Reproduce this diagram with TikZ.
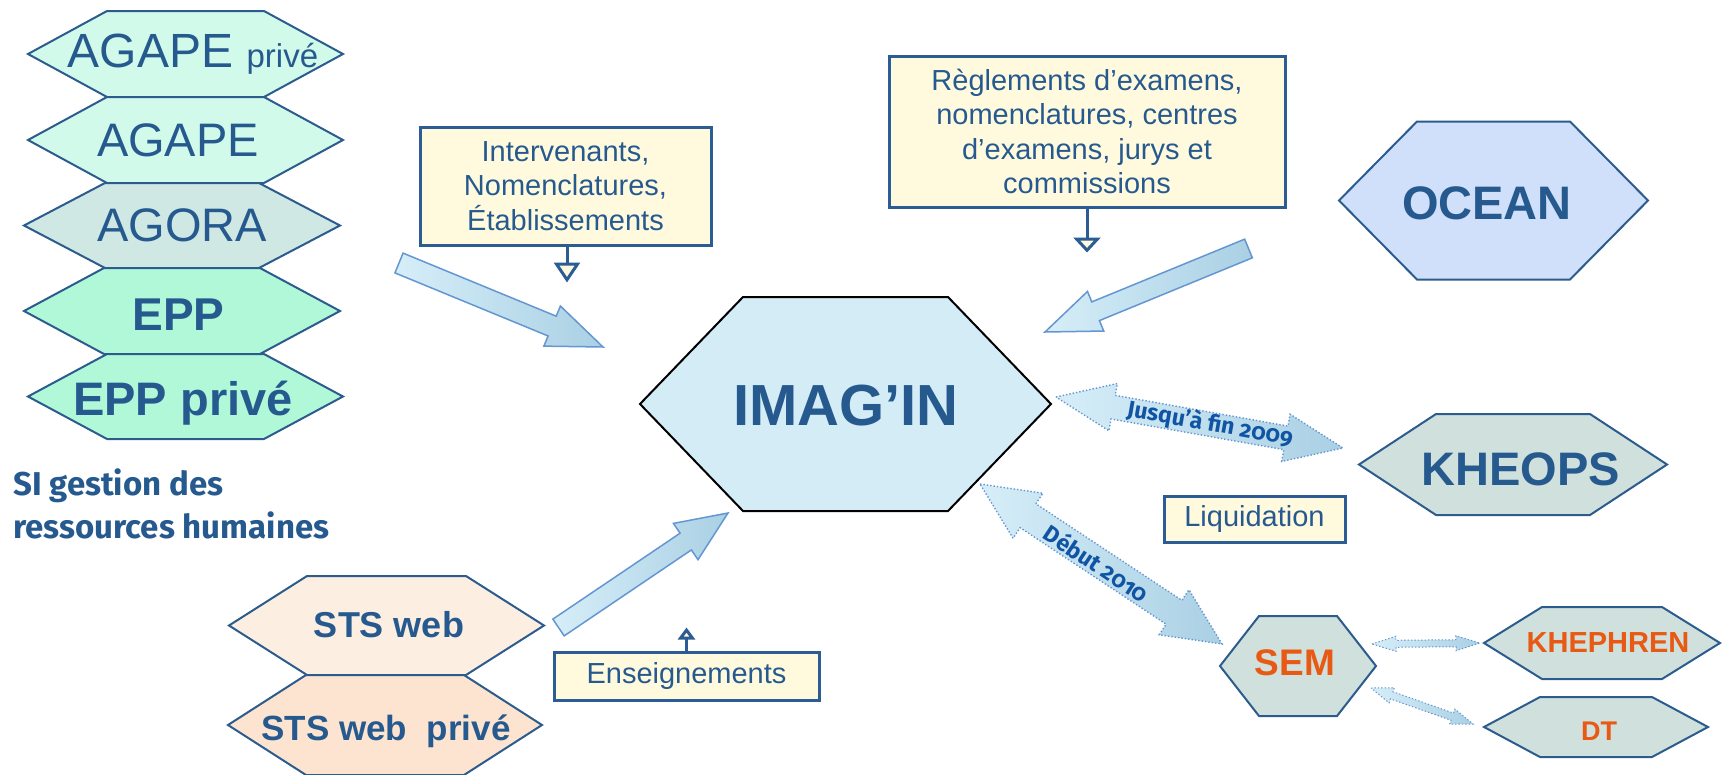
\documentclass[tikz,border=0pt]{standalone}
\usepackage{fontspec}
\setmainfont{Liberation Sans}
\newfontfamily\fira{Fira Sans}[Numbers=OldStyle]
\usetikzlibrary{calc,arrows.meta}
\definecolor{txtblue}{RGB}{38,90,143}
\definecolor{hexborder}{RGB}{44,92,142}
\definecolor{mintA}{RGB}{210,250,234}
\definecolor{agoraC}{RGB}{208,232,228}
\definecolor{mintB}{RGB}{176,248,216}
\definecolor{oceanC}{RGB}{208,224,250}
\definecolor{grayC}{RGB}{208,224,220}
\definecolor{imaginC}{RGB}{212,236,246}
\definecolor{stsA}{RGB}{253,238,226}
\definecolor{stsB}{RGB}{252,228,208}
\definecolor{orng}{RGB}{232,90,20}
\definecolor{boxfill}{RGB}{255,250,222}
\definecolor{boxborder}{RGB}{44,92,148}
\definecolor{arrL}{RGB}{214,238,248}
\definecolor{arrR}{RGB}{170,208,228}
\definecolor{arrB}{RGB}{100,150,210}
\definecolor{lblue}{RGB}{16,84,164}
\newcommand\fsz[1]{\fontsize{#1}{#1}\selectfont}
% hexagon: name, cx, cy, half width, tip inset, half height, style
\newcommand\hexa[7]{%
  \path[#7] (#2-#4,#3) -- (#2-#4+#5,#3-#6) -- (#2+#4-#5,#3-#6) -- (#2+#4,#3)
    -- (#2+#4-#5,#3+#6) -- (#2-#4+#5,#3+#6) -- cycle;
  \coordinate (#1) at (#2,#3);}
% block arrow: start, tip, half shaft, half head, head length, style
\newcommand\blockarrow[6]{%
  \coordinate (ba-h) at ($(#2)!#5!(#1)$);
  \path[#6] ($(#1)!#3!90:(#2)$) -- ($(ba-h)!#3!90:(#2)$) -- ($(ba-h)!#4!90:(#2)$)
    -- (#2) -- ($(ba-h)!#4!-90:(#2)$) -- ($(ba-h)!#3!-90:(#2)$) -- ($(#1)!#3!-90:(#2)$) -- cycle;}
% double arrow: tip A, tip B, half shaft, half head, head length, style
\newcommand\dblarrow[6]{%
  \coordinate (da-a) at ($(#1)!#5!(#2)$);
  \coordinate (da-b) at ($(#2)!#5!(#1)$);
  \path[#6] (#1) -- ($(da-a)!#4!90:(#2)$) -- ($(da-a)!#3!90:(#2)$) -- ($(da-b)!#3!-90:(#1)$)
    -- ($(da-b)!#4!-90:(#1)$) -- (#2) -- ($(da-b)!#4!90:(#1)$) -- ($(da-b)!#3!90:(#1)$)
    -- ($(da-a)!#3!-90:(#2)$) -- ($(da-a)!#4!-90:(#2)$) -- cycle;}
\tikzset{
  hexb/.style={draw=hexborder, line width=2pt, line join=miter},
  txt/.style={text=txtblue, inner sep=0pt, anchor=base},
  lbl/.style={text=lblue, inner sep=0pt, font=\fira\bfseries\fsz{23}},
  infobox/.style={draw=boxborder, line width=3pt, fill=boxfill, text=txtblue, inner sep=0pt,
    align=center, font=\fontsize{29}{34.5}\selectfont},
  barrow/.style={left color=arrL, right color=arrR, draw=arrB, line width=1.5pt, line join=miter},
  darrow/.style={left color=arrL, right color=arrR, draw=arrB, line width=1.4pt, dotted, line join=miter},
  stem/.style={draw=boxborder, line width=3pt},
}
\begin{document}
\begin{tikzpicture}[x=1pt, y=-1pt]
\useasboundingbox (0,0) rectangle (1722,774);
% left stack
\hexa{agapep}{185.5}{54}{157.5}{79}{43}{hexb, fill=mintA}
\hexa{agape}{185.5}{140}{157.5}{79}{43}{hexb, fill=mintA}
\hexa{agora}{182}{225.5}{158}{81}{42.5}{hexb, fill=agoraC}
\hexa{epp}{182}{311}{158}{80}{43}{hexb, fill=mintB}
\hexa{eppp}{185.5}{396.5}{157.5}{79}{42.5}{hexb, fill=mintB}
% others
\hexa{imagin}{845.5}{404}{205.5}{103}{107}{draw=black, line width=2pt, line join=miter, fill=imaginC}
\hexa{ocean}{1493.5}{200.5}{154.5}{78}{79}{hexb, fill=oceanC}
\hexa{kheops}{1513}{464.5}{154}{77}{50.5}{hexb, fill=grayC}
\hexa{sem}{1298}{666}{78}{39}{50}{hexb, fill=grayC}
\hexa{khephren}{1602}{643}{118}{58}{36}{hexb, fill=grayC}
\hexa{dt}{1596}{727}{112}{56}{30}{hexb, fill=grayC}
\hexa{sts}{386.5}{625.5}{157.5}{78}{49.5}{hexb, fill=stsA}
\hexa{stsp}{385}{725}{157}{78}{50}{hexb, fill=stsB}
% info boxes
\node[infobox, minimum width=291pt, minimum height=118pt] (intv) at (565.5,186)
  {Intervenants,\\Nomenclatures,\\Établissements};
\node[infobox, minimum width=396pt, minimum height=151pt] (regl) at (1087,131.5)
  {Règlements d’examens,\\nomenclatures, centres\\d’examens, jurys et\\commissions};
\node[infobox, minimum width=181pt, minimum height=46pt] (liq) at (1254.5,519) {Liquidation};
\node[infobox, minimum width=265pt, minimum height=48pt] (ens) at (686.5,676) {Enseignements};
% stems
\coordinate (intv-e) at ($(intv.south)+(1.5,36)$);
\draw[stem, -{Triangle[length=20pt,width=26pt,fill=boxfill]}] (intv.south -| intv-e) -- (intv-e);
\coordinate (regl-e) at ($(regl.south)+(0,44)$);
\draw[stem, -{Triangle[length=15pt,width=27pt,fill=boxfill]}] (regl.south) -- (regl-e);
\coordinate (ens-e) at ($(ens.north)+(0,-23)$);
\draw[stem, -{Triangle[length=12pt,width=17pt,fill=boxfill]}] (ens.north) -- (ens-e);
% block arrows
\coordinate (a1s) at (399,263); \coordinate (a1e) at (603,347);
\blockarrow{a1s}{a1e}{10.7pt}{21.7pt}{55pt}{barrow}
\coordinate (a2s) at (558.5,627.5); \coordinate (a2e) at (728,513);
\blockarrow{a2s}{a2e}{10.1pt}{21.9pt}{51pt}{barrow}
\coordinate (a3s) at (1248.5,248.5); \coordinate (a3e) at (1045,332);
\blockarrow{a3s}{a3e}{10.1pt}{21.4pt}{54.7pt}{barrow}
% double arrows
\coordinate (d1a) at (1056,397); \coordinate (d1b) at (1343,448);
\dblarrow{d1a}{d1b}{12pt}{24pt}{58pt}{darrow}
\coordinate (d2a) at (980,484); \coordinate (d2b) at (1222,644);
\dblarrow{d2a}{d2b}{14.3pt}{27pt}{57.5pt}{darrow}
\coordinate (d3a) at (1372,644); \coordinate (d3b) at (1480,643);
\dblarrow{d3a}{d3b}{3.5pt}{7.5pt}{24pt}{darrow, line width=1pt}
\coordinate (d4a) at (1371,688); \coordinate (d4b) at (1473,724);
\dblarrow{d4a}{d4b}{3.8pt}{8pt}{22pt}{darrow, line width=1pt}
% texts
\node[txt, font=\fsz{48}] (t-agapep) at (193,67) {AGAPE {\fsz{33}privé}};
\node[txt, font=\fsz{47}] (t-agape) at (178,156) {AGAPE};
\node[txt, font=\fsz{47}] (t-agora) at (182,241) {AGORA};
\node[txt, font=\bfseries\fsz{46}] (t-epp) at (178.5,330) {EPP};
\node[txt, font=\bfseries\fsz{47}] (t-eppp) at (183,415) {EPP privé};
\node[txt, anchor=base west, font=\fira\bfseries\fsz{33}] (si1) at (13,495) {SI gestion des};
\node[txt, anchor=base west, font=\fira\bfseries\fsz{33}] (si2) at (13,538) {ressources humaines};
\node[txt, font=\bfseries\fsz{58}] (t-imagin) at (846,425) {IMAG’IN};
\node[txt, font=\bfseries\fsz{47}] (t-ocean) at (1487,219) {OCEAN};
\node[txt, font=\bfseries\fsz{47}] (t-kheops) at (1521,485) {KHEOPS};
\node[txt, text=orng, font=\bfseries\fsz{37}] (t-sem) at (1295,675) {SEM};
\node[txt, text=orng, font=\bfseries\fsz{29}] (t-khephren) at (1608,652) {KHEPHREN};
\node[txt, text=orng, font=\bfseries\fsz{27}] (t-dt) at (1599,740) {DT};
\node[txt, font=\bfseries\fsz{36}] (t-sts) at (389,637) {STS web};
\node[txt, font=\bfseries\fsz{35}] (t-stsp) at (386,740) {STS web\ \ privé};
\node[lbl, rotate=-10] (l-2009) at (1210,424) {Jusqu’à fin 2009};
\node[lbl, rotate=-33.5] (l-2010) at (1097,563) {Début 2010};
\end{tikzpicture}
\end{document}
